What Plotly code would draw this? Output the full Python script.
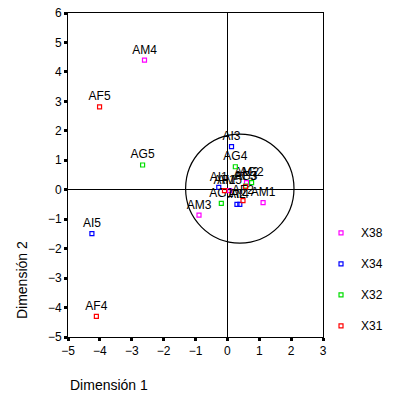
import plotly.graph_objects as go

# Data (Dimensión 1, Dimensión 2)
x38_labels = ["AM1", "AM2", "AM3", "AM4", "AM5"]
x38_d1 = [1.12, 0.60, -0.89, -2.60, 0.07]
x38_d2 = [-0.44, 0.24, -0.86, 4.40, -0.03]

x34_labels = ["AI1", "AI2", "AI3", "AI4", "AI5"]
x34_d1 = [-0.27, 0.30, 0.13, 0.39, -4.25]
x34_d2 = [0.08, -0.50, 1.46, -0.50, -1.49]

x32_labels = ["AG1", "AG2", "AG3", "AG4", "AG5"]
x32_d1 = [-0.19, 0.76, 0.57, 0.25, -2.66]
x32_d2 = [-0.46, 0.24, 0.12, 0.78, 0.84]

x31_labels = ["AF1", "AF2", "AF3", "AF4", "AF5"]
x31_d1 = [-0.09, 0.49, 0.57, -4.11, -4.01]
x31_d2 = [-0.03, -0.37, 0.10, -4.30, 2.81]

series = [
    ("X38", x38_d1, x38_d2, x38_labels, "#ff00ff"),
    ("X34", x34_d1, x34_d2, x34_labels, "#0000ff"),
    ("X32", x32_d1, x32_d2, x32_labels, "#00dd00"),
    ("X31", x31_d1, x31_d2, x31_labels, "#ff0000"),
]

FONT = "Liberation Sans, Arial, sans-serif"

fig = go.Figure()
for i, (name, xs, ys, labels, color) in enumerate(series):
    fig.add_trace(go.Scatter(
        x=xs, y=ys, mode="markers+text", name=name,
        text=labels, textposition="top center",
        textfont=dict(family=FONT, size=12, color="black"),
        marker=dict(symbol="square-open", size=4, color=color, line=dict(width=1.2, color=color)),
        legendgroup=name, cliponaxis=False,
    ))

# circle of reference
cx, cy, rx, ry = 0.39, 0.04, 1.70, 1.85
fig.add_shape(type="circle", xref="x", yref="y",
              x0=cx - rx, x1=cx + rx, y0=cy - ry, y1=cy + ry,
              line=dict(color="black", width=1.2), layer="above")

axis_common = dict(
    showgrid=False, zeroline=True, zerolinecolor="black", zerolinewidth=1,
    showline=True, linecolor="black", linewidth=1, mirror=True,
    ticks="outside", tickcolor="black", ticklen=3, tickwidth=3, dtick=1,
    tickfont=dict(family=FONT, size=12, color="black"), automargin=False,
    ticklabeloverflow="allow",
)

fig.update_xaxes(range=[-5, 3], tick0=-5, **axis_common)
fig.update_yaxes(range=[-5, 6], tick0=-5, **axis_common)

fig.add_annotation(text="Dimensión 1", xref="paper", yref="paper", x=0.0, y=-0.148,
                   xanchor="left", yanchor="middle", showarrow=False,
                   font=dict(family=FONT, size=14, color="black"))
fig.add_annotation(text="Dimensión 2", xref="paper", yref="paper", x=-0.18, y=0.176,
                   xanchor="center", yanchor="middle", textangle=-90, showarrow=False,
                   font=dict(family=FONT, size=14, color="black"))

fig.update_layout(
    width=397, height=405,
    margin=dict(l=68, r=74, t=13, b=68, autoexpand=False),
    plot_bgcolor="white", paper_bgcolor="white",
    showlegend=True,
    legend=dict(xref="container", yref="container", x=0.8086, y=0.461,
                xanchor="left", yanchor="top",
                font=dict(family=FONT, size=12, color="black"),
                tracegroupgap=12, itemwidth=30, bgcolor="rgba(0,0,0,0)"),
)

fig.write_html("out.html", config={"displayModeBar": False},
               post_script="document.body.style.margin='0px';")
